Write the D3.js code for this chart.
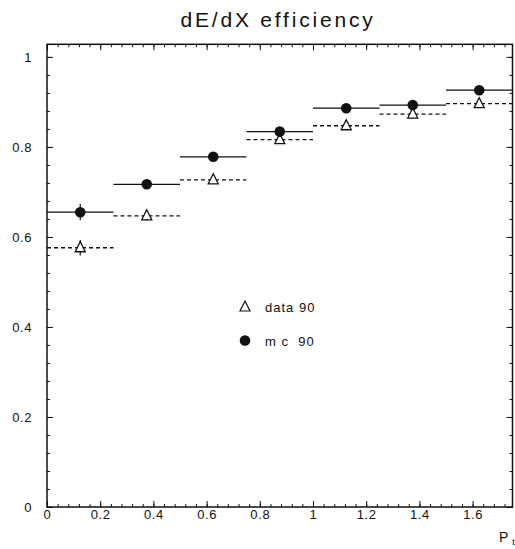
<!DOCTYPE html>
<html>
<head>
<meta charset="utf-8">
<script src="https://cdn.jsdelivr.net/npm/d3@7/dist/d3.min.js"></script>
<style>
  html, body { margin: 0; padding: 0; background: #fff; }
  svg { display: block; }
  text { font-family: "Liberation Sans", "DejaVu Sans", sans-serif; fill: #111; }
</style>
</head>
<body>
<svg id="chart" width="515" height="549"></svg>
<script>
// Transverse-momentum bins (edges) and efficiencies per bin
const binEdges = [0, 0.25, 0.5, 0.75, 1.0, 1.25, 1.5, 1.75];
const dataEff  = [0.576, 0.647, 0.727, 0.816, 0.847, 0.873, 0.896];
const dataErr  = [0.017, 0.011, 0.009, 0.008, 0.008, 0.007, 0.006];
const mcEff    = [0.655, 0.717, 0.778, 0.834, 0.886, 0.893, 0.926];
const mcErr    = [0.018, 0.010, 0.008, 0.007, 0.006, 0.006, 0.005];

const xTicks = [0, 0.2, 0.4, 0.6, 0.8, 1, 1.2, 1.4, 1.6];
const yTicks = [0, 0.2, 0.4, 0.6, 0.8, 1];
const titleText = "dE/dX efficiency";
const legendLabels = ["data 90", "m c  90"];

const svg = d3.select("#chart");
const x = d3.scaleLinear().domain([0, 1.75]).range([47, 512.5]);
const y = d3.scaleLinear().domain([0, 1.028]).range([507, 44.3]);

const fmt = d => (d === 0 || d === 1) ? String(d) : d3.format(".1f")(d);

// Minor ticks every 0.04
const xMinor = d3.range(0, 1.7501, 0.04).filter(v => v <= 1.75);
const yMinor = d3.range(0, 1.0281, 0.04).filter(v => v <= 1.028);

const g = svg.append("g");

// Bottom axis (ticks pointing inward)
const axBottom = g.append("g").attr("transform", `translate(0,${y(0)})`);
axBottom.call(d3.axisBottom(x).tickValues(xMinor).tickSize(-3).tickFormat(""))
  .call(a => a.select(".domain").remove());
axBottom.append("g").call(d3.axisBottom(x).tickValues(xTicks).tickSize(-6).tickPadding(2).tickFormat(fmt))
  .call(a => a.select(".domain").remove())
  .selectAll("text").attr("font-size", 13).attr("letter-spacing", 0.6).attr("dy", "0.75em");

// Top axis
const axTop = g.append("g").attr("transform", `translate(0,${y.range()[1]})`);
axTop.call(d3.axisTop(x).tickValues(xMinor).tickSize(-3).tickFormat(""))
  .call(a => a.select(".domain").remove());
axTop.append("g").call(d3.axisTop(x).tickValues(xTicks).tickSize(-6).tickFormat(""))
  .call(a => a.select(".domain").remove());

// Left axis
const axLeft = g.append("g").attr("transform", `translate(${x(0)},0)`);
axLeft.call(d3.axisLeft(y).tickValues(yMinor).tickSize(-3).tickFormat(""))
  .call(a => a.select(".domain").remove());
axLeft.append("g").call(d3.axisLeft(y).tickValues(yTicks).tickSize(-6).tickPadding(15).tickFormat(fmt))
  .call(a => a.select(".domain").remove())
  .selectAll("text").attr("font-size", 13).attr("letter-spacing", 0.6);

// Right axis
const axRight = g.append("g").attr("transform", `translate(${x.range()[1]},0)`);
axRight.call(d3.axisRight(y).tickValues(yMinor).tickSize(-3).tickFormat(""))
  .call(a => a.select(".domain").remove());
axRight.append("g").call(d3.axisRight(y).tickValues(yTicks).tickSize(-6).tickFormat(""))
  .call(a => a.select(".domain").remove());

g.selectAll(".tick line").attr("stroke", "#111").attr("stroke-width", 1);

// Frame
g.append("rect")
  .attr("x", x(0)).attr("y", y.range()[1])
  .attr("width", x.range()[1] - x(0)).attr("height", y(0) - y.range()[1])
  .attr("fill", "none").attr("stroke", "#111").attr("stroke-width", 1.5);

const bins = binEdges.slice(0, -1).map((lo, i) => ({
  lo, hi: binEdges[i + 1], mid: (lo + binEdges[i + 1]) / 2,
  data: dataEff[i], dErr: dataErr[i], mc: mcEff[i], mErr: mcErr[i]
}));

const marks = svg.append("g");

// Data: dashed horizontal bin lines + error bars + open triangles
marks.selectAll(".dline").data(bins).join("line")
  .attr("x1", d => x(d.lo)).attr("x2", d => x(d.hi))
  .attr("y1", d => y(d.data)).attr("y2", d => y(d.data))
  .attr("stroke", "#111").attr("stroke-width", 1.3).attr("stroke-dasharray", "4,3");
marks.selectAll(".derr").data(bins).join("line")
  .attr("x1", d => x(d.mid)).attr("x2", d => x(d.mid))
  .attr("y1", d => y(d.data - d.dErr)).attr("y2", d => y(d.data + d.dErr))
  .attr("stroke", "#111").attr("stroke-width", 1.2);

// MC: solid horizontal bin lines + error bars + filled circles
marks.selectAll(".mline").data(bins).join("line")
  .attr("x1", d => x(d.lo)).attr("x2", d => x(d.hi))
  .attr("y1", d => y(d.mc)).attr("y2", d => y(d.mc))
  .attr("stroke", "#111").attr("stroke-width", 1.3);
marks.selectAll(".merr").data(bins).join("line")
  .attr("x1", d => x(d.mid)).attr("x2", d => x(d.mid))
  .attr("y1", d => y(d.mc - d.mErr)).attr("y2", d => y(d.mc + d.mErr))
  .attr("stroke", "#111").attr("stroke-width", 1.2);

const tri = (cx, cy) => {
  const w = 10, h = 10;
  return `M${cx},${cy - h * 0.6}L${cx + w / 2},${cy + h * 0.4}L${cx - w / 2},${cy + h * 0.4}Z`;
};
marks.selectAll(".tri").data(bins).join("path")
  .attr("d", d => tri(x(d.mid), y(d.data)))
  .attr("fill", "#fff").attr("stroke", "#111").attr("stroke-width", 1.3);
marks.selectAll(".dot").data(bins).join("circle")
  .attr("cx", d => x(d.mid)).attr("cy", d => y(d.mc)).attr("r", 5.3)
  .attr("fill", "#111");

// Legend
const leg = svg.append("g");
leg.append("path").attr("d", tri(245, 307))
  .attr("fill", "#fff").attr("stroke", "#111").attr("stroke-width", 1.2);
leg.append("circle").attr("cx", 245).attr("cy", 340.5).attr("r", 5.3).attr("fill", "#111");
leg.append("text").attr("x", 265).attr("y", 312).attr("font-size", 13).attr("letter-spacing", 1)
  .attr("xml:space", "preserve").style("white-space", "pre").text(legendLabels[0]);
leg.append("text").attr("x", 265).attr("y", 345.5).attr("font-size", 13).attr("letter-spacing", 1)
  .attr("xml:space", "preserve").style("white-space", "pre").text(legendLabels[1]);

// Title
svg.append("text").attr("x", 278).attr("y", 27).attr("text-anchor", "middle")
  .attr("font-size", 21).attr("letter-spacing", 2.8).text(titleText);

// Axis label P_t
const lab = svg.append("text").attr("x", 499).attr("y", 542).attr("font-size", 14);
lab.append("tspan").text("P");
lab.append("tspan").attr("dx", 4).attr("dy", 3).attr("font-size", 9).text("t");
</script>
</body>
</html>
